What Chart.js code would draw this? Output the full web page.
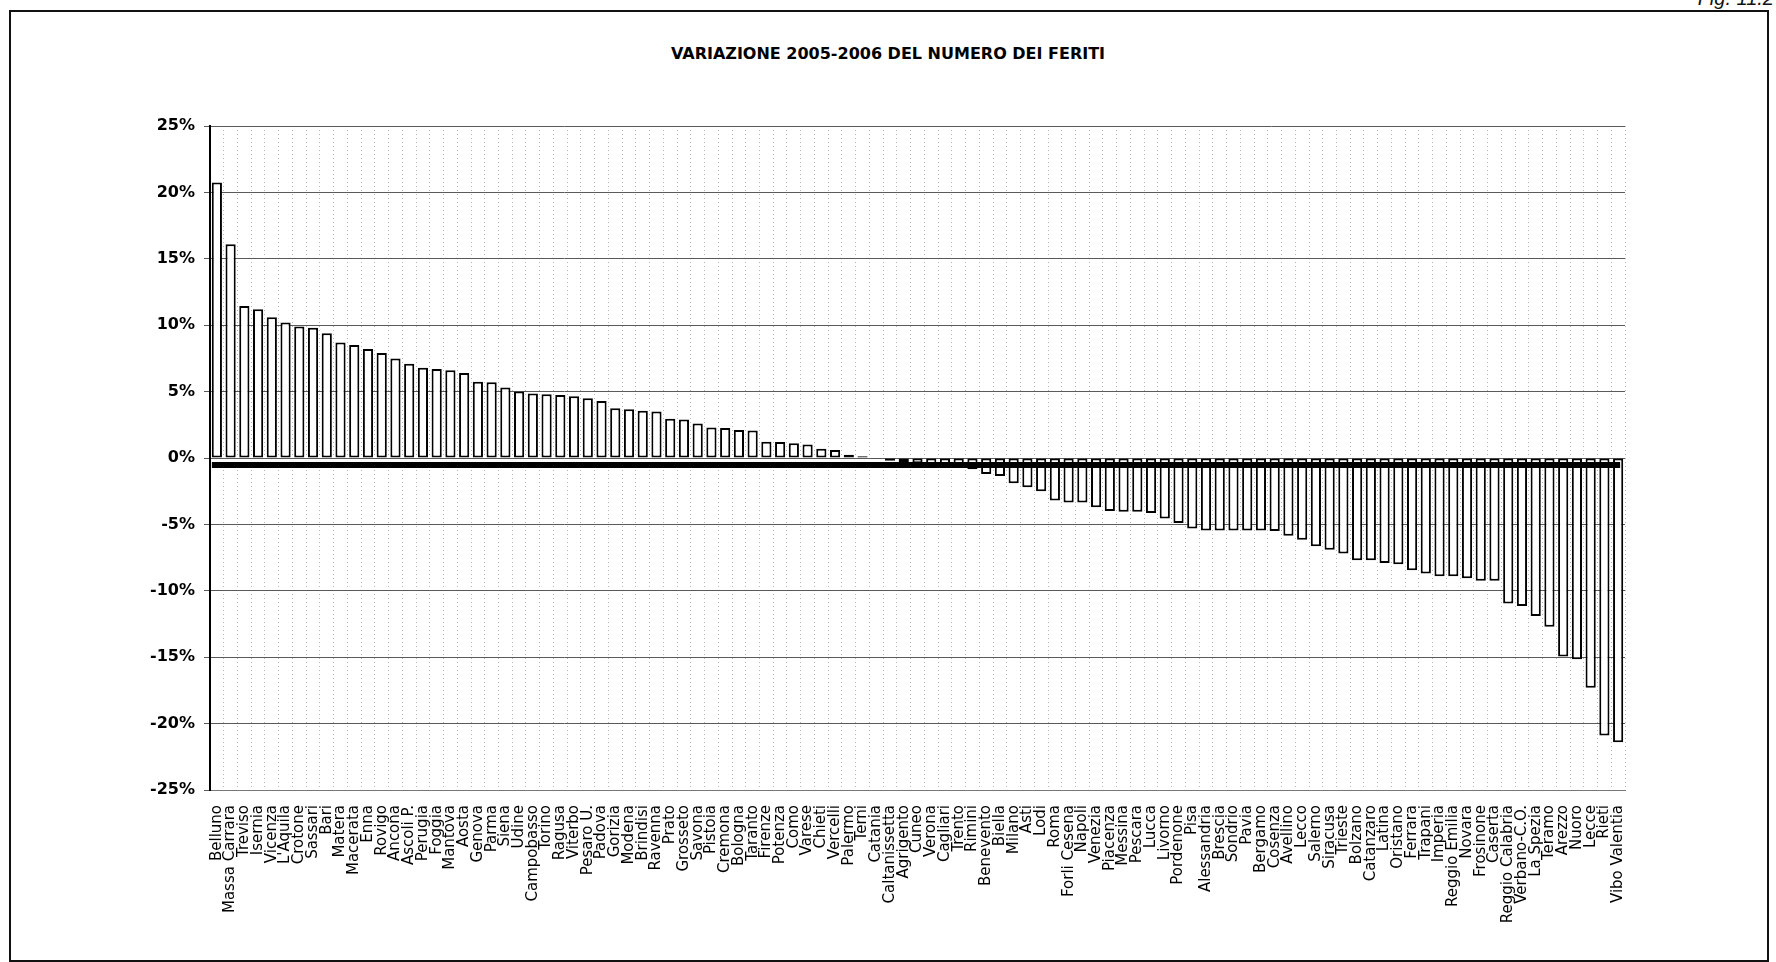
<!DOCTYPE html>
<html>
<head>
<meta charset="utf-8">
<title>Variazione 2005-2006 del numero dei feriti</title>
<script src="https://cdn.jsdelivr.net/npm/chart.js@4.4.1/dist/chart.umd.min.js"></script>
<style>
  html, body { margin: 0; padding: 0; background: #fff; }
  #page { position: relative; width: 1776px; height: 962px; overflow: hidden; }
  #frame { position: absolute; left: 9px; top: 10px; width: 1756px; height: 948px; border: 2px solid #111; }
  #fig { position: absolute; right: 2px; top: -13px; font: italic 20px "Liberation Sans", Arial, sans-serif; color: #111; }
  #title { position: absolute; left: 0; width: 1776px; top: 44px; text-align: center; font: bold 16px "DejaVu Sans", sans-serif; color: #000; }
  #wrap { position: absolute; left: 0; top: 0; width: 1776px; height: 962px; }
</style>
</head>
<body>
<div id="page">
  <div id="frame"></div>
  <div id="fig">Fig. 11.2</div>
  <div id="title"></div>
  <div id="wrap"><canvas id="barChart"></canvas></div>
</div>
<script>
const chartTitle = 'VARIAZIONE 2005-2006 DEL NUMERO DEI FERITI';

const provinces = [
  'Belluno', 'Massa Carrara', 'Treviso', 'Isernia', 'Vicenza', "L'Aquila", 'Crotone', 'Sassari', 'Bari', 'Matera',
  'Macerata', 'Enna', 'Rovigo', 'Ancona', 'Ascoli P.', 'Perugia', 'Foggia', 'Mantova', 'Aosta', 'Genova',
  'Parma', 'Siena', 'Udine', 'Campobasso', 'Torino', 'Ragusa', 'Viterbo', 'Pesaro U.', 'Padova', 'Gorizia',
  'Modena', 'Brindisi', 'Ravenna', 'Prato', 'Grosseto', 'Savona', 'Pistoia', 'Cremona', 'Bologna', 'Taranto',
  'Firenze', 'Potenza', 'Como', 'Varese', 'Chieti', 'Vercelli', 'Palermo', 'Terni', 'Catania', 'Caltanissetta',
  'Agrigento', 'Cuneo', 'Verona', 'Cagliari', 'Trento', 'Rimini', 'Benevento', 'Biella', 'Milano', 'Asti',
  'Lodi', 'Roma', 'Forli Cesena', 'Napoli', 'Venezia', 'Piacenza', 'Messina', 'Pescara', 'Lucca', 'Livorno',
  'Pordenone', 'Pisa', 'Alessandria', 'Brescia', 'Sondrio', 'Pavia', 'Bergamo', 'Cosenza', 'Avellino', 'Lecco',
  'Salerno', 'Siracusa', 'Trieste', 'Bolzano', 'Catanzaro', 'Latina', 'Oristano', 'Ferrara', 'Trapani', 'Imperia',
  'Reggio Emilia', 'Novara', 'Frosinone', 'Caserta', 'Reggio Calabria', 'Verbano-C.O.', 'La Spezia', 'Teramo', 'Arezzo', 'Nuoro',
  'Lecce', 'Rieti', 'Vibo Valentia'
];

// variazione % 2005-2006
const variazione = [
  20.75, 16.1, 11.45, 11.2, 10.6, 10.2, 9.9, 9.8, 9.4, 8.7,
  8.5, 8.2, 7.9, 7.5, 7.1, 6.8, 6.7, 6.6, 6.4, 5.75,
  5.7, 5.3, 5.0, 4.85, 4.8, 4.75, 4.65, 4.5, 4.3, 3.75,
  3.68, 3.55, 3.5, 2.95, 2.9, 2.6, 2.3, 2.25, 2.1, 2.08,
  1.22, 1.2, 1.12, 1.02, 0.69, 0.61, 0.25, 0.13, -0.05, -0.2,
  -0.3, -0.4, -0.45, -0.5, -0.6, -0.85, -1.2, -1.35, -1.9, -2.2,
  -2.5, -3.2, -3.35, -3.35, -3.7, -4.0, -4.05, -4.05, -4.15, -4.55,
  -4.9, -5.3, -5.45, -5.45, -5.45, -5.45, -5.45, -5.5, -5.85, -6.15,
  -6.65, -6.9, -7.2, -7.7, -7.7, -7.9, -8.0, -8.45, -8.7, -8.9,
  -8.9, -9.05, -9.25, -9.25, -10.95, -11.15, -11.9, -12.7, -14.95, -15.15,
  -17.3, -20.9, -21.4
];

const yTicks = [-25, -20, -15, -10, -5, 0, 5, 10, 15, 20, 25];

// the heavy category-axis stroke just under zero in the original print
const axisLineLevel = -0.53;

document.getElementById('title').textContent = chartTitle;

const axisLinePlugin = {
  id: 'axisLine',
  afterDatasetsDraw(chart) {
    const x = chart.scales.x;
    const y = chart.scales.y;
    const yPos = y.getPixelForValue(axisLineLevel);
    const x0 = x.getPixelForValue(0) - 5;
    const x1 = x.getPixelForValue(provinces.length - 1) + 2;
    const ctx = chart.ctx;
    ctx.save();
    ctx.strokeStyle = '#000';
    ctx.lineWidth = 6;
    ctx.beginPath();
    ctx.moveTo(x0, yPos);
    ctx.lineTo(x1, yPos);
    ctx.stroke();
    ctx.restore();
  }
};

const ctx = document.getElementById('barChart').getContext('2d');
new Chart(ctx, {
  type: 'bar',
  data: {
    labels: provinces,
    datasets: [{
      label: 'Variazione',
      data: variazione,
      backgroundColor: '#fff',
      borderColor: '#000',
      borderWidth: 2,
      borderSkipped: false,
      barPercentage: 0.74,
      categoryPercentage: 1
    }]
  },
  plugins: [axisLinePlugin],
  options: {
    responsive: true,
    maintainAspectRatio: false,
    animation: false,
    layout: {
      padding: { left: 0, right: 151, top: 126, bottom: 0 }
    },
    plugins: {
      legend: { display: false },
      tooltip: { enabled: false },
      title: { display: false }
    },
    scales: {
      x: {
        afterFit: function (scale) { scale.height = 172; },
        grid: {
          color: '#b5b5b5',
          lineWidth: 1,
          drawTicks: false,
          offset: true
        },
        border: { color: '#777', width: 1, dash: [1, 3] },
        ticks: {
          autoSkip: false,
          maxRotation: 90,
          minRotation: 90,
          padding: 15,
          color: '#000',
          font: { family: 'DejaVu Sans', size: 15 }
        }
      },
      y: {
        min: -25,
        max: 25,
        afterFit: function (scale) { scale.width = 210; },
        afterBuildTicks: function (scale) {
          scale.ticks = yTicks.map(v => ({ value: v }));
        },
        grid: {
          color: '#5a5a5a',
          lineWidth: 1,
          tickLength: 6
        },
        border: { color: '#000', width: 2 },
        ticks: {
          padding: 9,
          color: '#000',
          font: { family: 'DejaVu Sans', size: 16, weight: 'bold' },
          callback: v => v + '%'
        }
      }
    }
  }
});
</script>
</body>
</html>
